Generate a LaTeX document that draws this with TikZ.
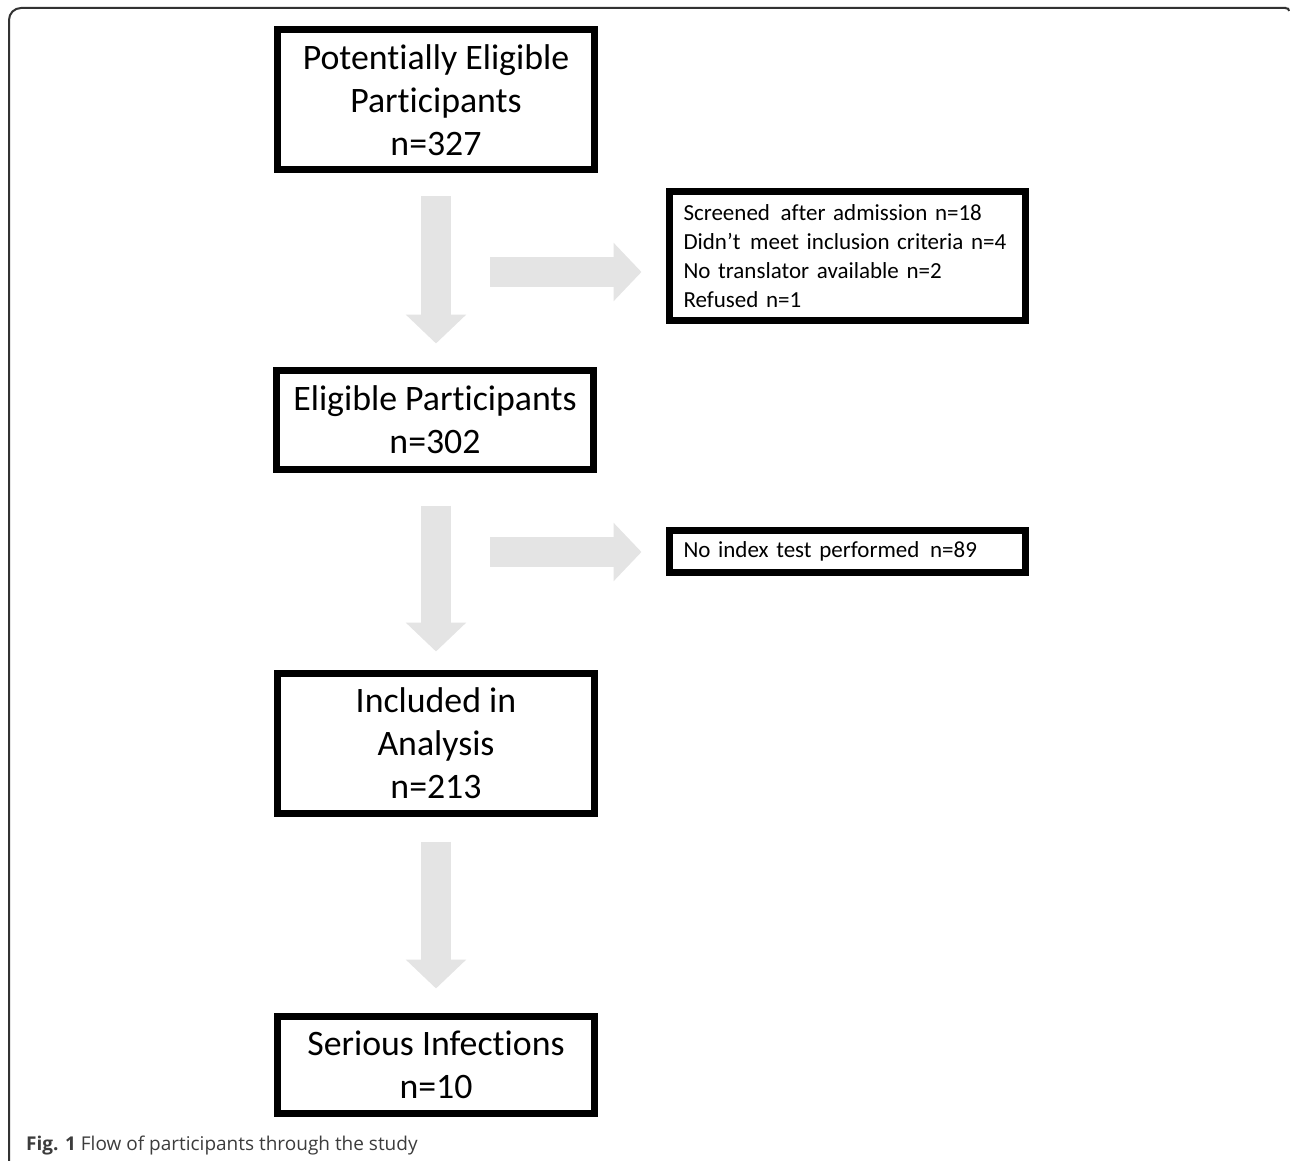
\documentclass[tikz,border=0pt]{standalone}
\usepackage{fontspec}
\setmainfont{Carlito}[Ligatures=NoCommon]
\newfontfamily\sidefont{Carlito}[Ligatures=NoCommon, WordSpace=0.7]
\newfontfamily\capfont{Open Sans}
\usetikzlibrary{arrows.meta}
\definecolor{arrowgray}{RGB}{228,228,228}
\definecolor{framegray}{RGB}{50,50,50}
\definecolor{captext}{RGB}{60,60,60}
\begin{document}
\begin{tikzpicture}[x=1pt,y=-1pt,
  mainbox/.style={draw, line width=7pt, minimum width=317pt, align=center, inner sep=0pt, font=\fontsize{35.8}{43}\selectfont},
  sidebox/.style={draw, line width=7pt, text width=327pt, inner xsep=14.5pt, inner ysep=0pt, align=left, font=\sidefont\fontsize{23}{29}\selectfont},
  flow/.style={draw=arrowgray, line width=30pt, -{Triangle[width=59pt,length=29pt]}},
  sideflow/.style={draw=arrowgray, line width=30pt, -{Triangle[width=57pt,length=28pt]}}]
\useasboundingbox (0,0) rectangle (1290,1161);
% outer frame
\draw[framegray, line width=2pt, rounded corners=12pt] (9,1161) -- (9,8) -- (1286,8);
\draw[framegray, line width=2pt] (1285,8) .. controls (1288,8) and (1289,9) .. (1289,11);
% boxes
\node[mainbox, minimum height=140pt] (p) at (436,100) {Potentially Eligible\\Participants\\n=327};
\node[mainbox, minimum height=99pt] (e) at (435,420) {Eligible Participants\\n=302};
\node[mainbox, minimum height=140pt] (i) at (436,743.5) {Included in\\Analysis\\n=213};
\node[mainbox, minimum height=97pt] (s) at (436,1065) {Serious Infections\\n=10};
\node[sidebox, minimum height=129pt] (x1) at (847,256) {\mbox{Screened\hspace{3pt} after admission n=18}\\\mbox{Didn’t\hspace{2pt} meet inclusion criteria n=4}\\\mbox{No translator available n=2}\\\mbox{Refused n=1}};
\node[sidebox, minimum height=42pt] (x2) at (847,551.5) {\mbox{No index test performed\hspace{3pt} n=89}};
% down arrows
\draw[flow, shorten <=23pt, shorten >=23.5pt] (p.south) -- (p.south |- e.north);
\draw[flow, shorten <=32.5pt, shorten >=18.5pt] (p.south |- e.south) -- (p.south |- i.north);
\draw[flow, shorten <=24.5pt, shorten >=24.5pt] (i.south) -- (i.south |- s.north);
% side arrows
\coordinate (r1) at (490,272);
\coordinate (r2) at (490,552);
\draw[sideflow, shorten >=24pt] (r1) -- (r1 -| x1.west);
\draw[sideflow, shorten >=24pt] (r2) -- (r2 -| x2.west);
% caption
\node[anchor=base west, inner sep=0pt, font=\capfont\fontsize{19}{22}\selectfont, text=captext] (cap) at (26,1150) {\textbf{Fig. 1} Flow of participants through the study};
\end{tikzpicture}
\end{document}
